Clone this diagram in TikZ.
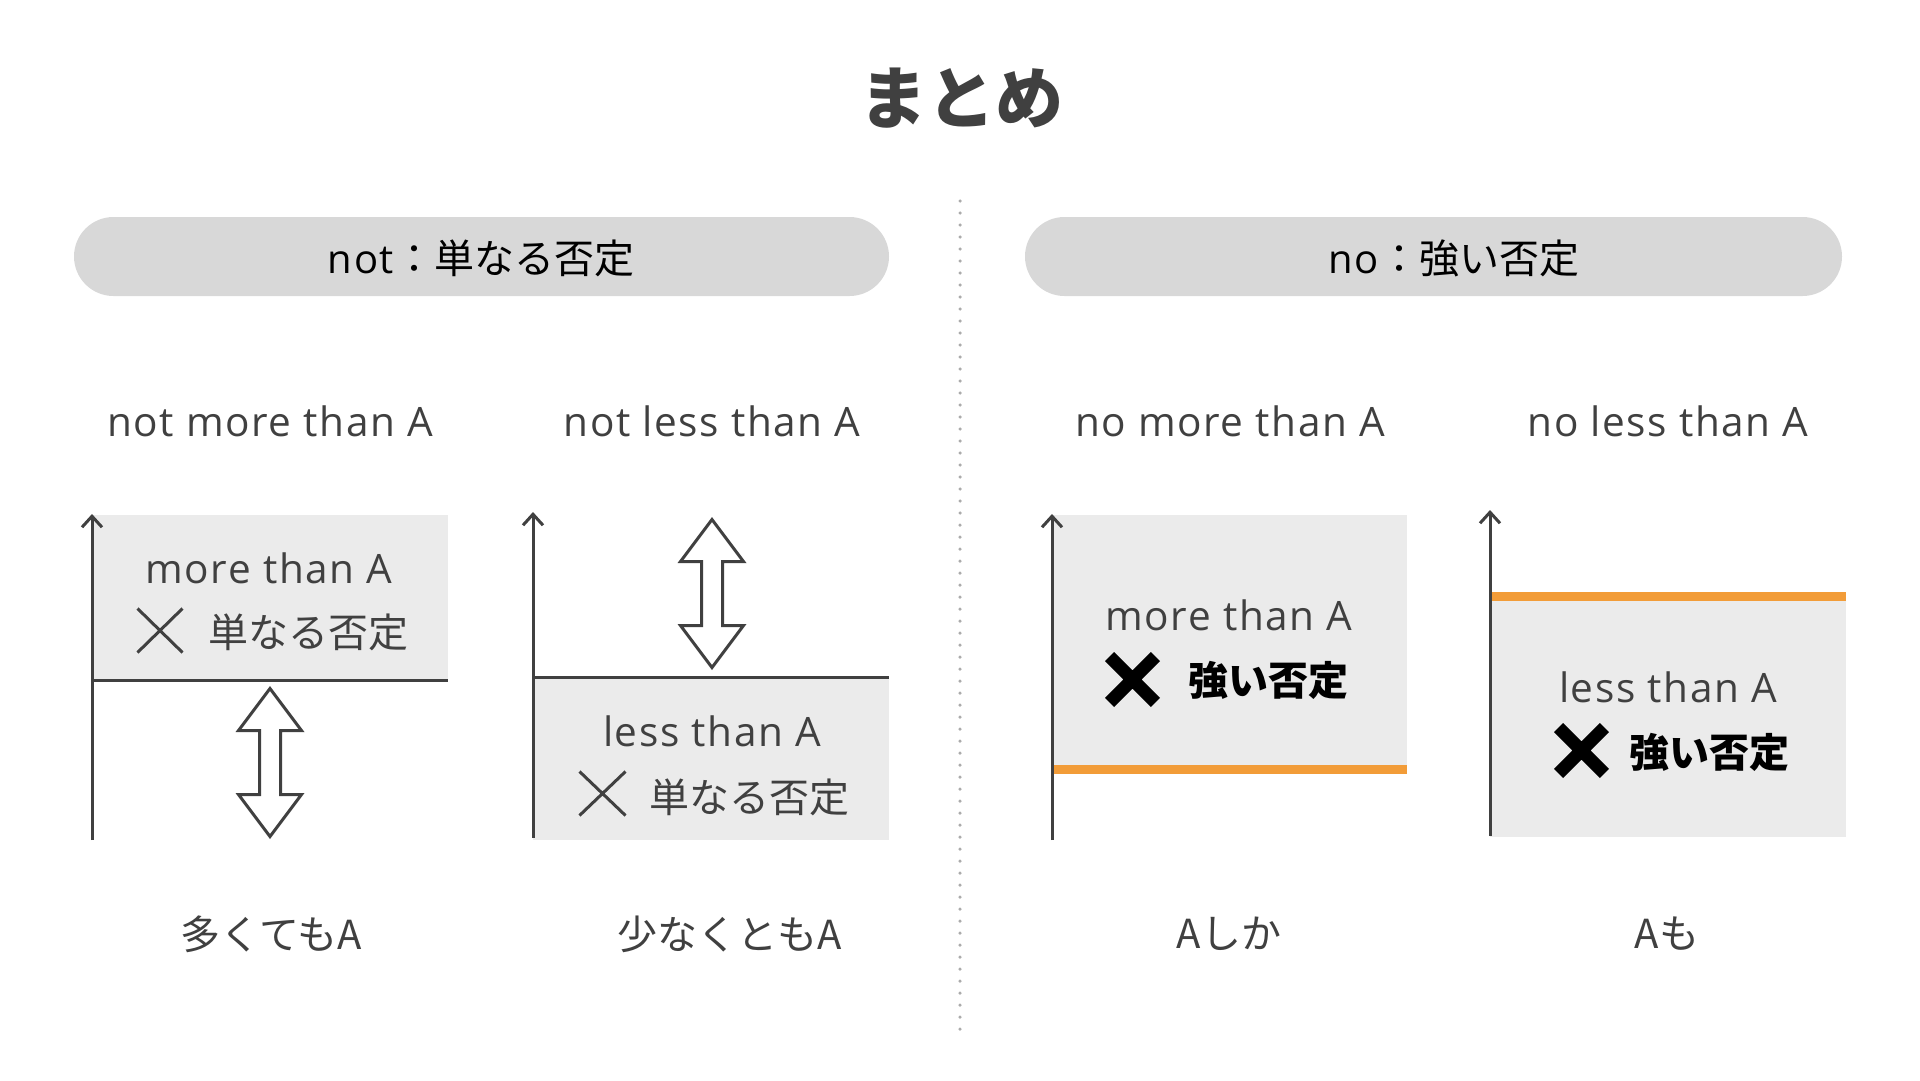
\documentclass[tikz,border=0pt]{standalone}
\usepackage{fontspec}
\usetikzlibrary{arrows.meta}
\newfontfamily\jp{Noto Sans CJK JP}
\newfontfamily\lat[LetterSpace=4]{Open Sans}
\definecolor{txt}{HTML}{404040}
\definecolor{boxgray}{HTML}{EBEBEB}
\definecolor{pillgray}{HTML}{D8D8D8}
\definecolor{orng}{HTML}{F29C38}
\definecolor{dotgray}{HTML}{ABABAB}
\tikzset{
  lab/.style={font=\lat\fontsize{40.5}{48}\selectfont, text=txt, inner sep=0pt},
  jlab/.style={font=\jp\fontsize{40}{48}\selectfont, text=txt, inner sep=0pt},
  boldlab/.style={font=\jp\bfseries\fontsize{40}{48}\selectfont, text=black, inner sep=0pt},
  pilltext/.style={font=\jp\fontsize{40}{48}\selectfont, text=black, inner sep=0pt},
  axis/.style={draw=txt, line width=3pt, -{Straight Barb[length=11pt,width=20pt]}},
  baseline line/.style={draw=txt, line width=3pt},
  orange line/.style={draw=orng, line width=9pt},
  area/.style={fill=boxgray},
  pill/.style={fill=pillgray, rounded corners=39.5pt},
  harrow/.style={draw=txt, fill=white, line width=3pt, line join=miter},
  thinx/.style={draw=txt, line width=3pt},
  boldx/.style={draw=black, line width=13pt},
}
\newcommand\hollowarrow[3]{%
  \draw[harrow] (#1,#2) -- ({#1+31.5},{#2+42}) -- ({#1+10.5},{#2+42}) -- ({#1+10.5},{#3-42})
    -- ({#1+31.5},{#3-42}) -- (#1,#3) -- ({#1-31.5},{#3-42}) -- ({#1-10.5},{#3-42})
    -- ({#1-10.5},{#2+42}) -- ({#1-31.5},{#2+42}) -- cycle;}
\begin{document}
\begin{tikzpicture}[x=1pt,y=-1pt]
\useasboundingbox (0,0) rectangle (1920,1080);
\fill[white] (0,0) rectangle (1920,1080);

% title
\node[font=\jp\bfseries\fontsize{68}{80}\selectfont, text=txt, inner sep=0pt] (title) at (961,98) {まとめ};

% divider
\draw[dotgray, line width=3.5pt, line cap=round, dash pattern=on 0pt off 12pt] (960,201) -- (960,1031);

% pills
\fill[pill] (74,217) rectangle (889,296);
\fill[pill] (1025,217) rectangle (1842,296);
\node[pilltext] (pill1) at (481,258) {{\lat not}：単なる否定};
\node[pilltext] (pill2) at (1454,258) {{\lat no}：強い否定};

% headers
\node[lab] (h1) at (270,421) {not more than A};
\node[lab] (h2) at (712,421) {not less than A};
\node[lab] (h3) at (1230,421) {no more than A};
\node[lab] (h4) at (1668,421) {no less than A};

% bottom labels
\node[jlab] (b1) at (271,934) {多くてもA};
\node[jlab] (b2) at (730,934) {少なくともA};
\node[jlab] (b3) at (1229,934) {Aしか};
\node[jlab] (b4) at (1667,934) {Aも};

% ---- diagram 1
\fill[area] (92,515) rectangle (448,680);
\draw[baseline line] (92,680) -- (448,680);
\draw[axis] (92,840) -- (92,514);
\hollowarrow{270}{688.5}{836.5}
\node[lab] (t1) at (269,568) {more than A};
\draw[thinx] (137.5,608.5) -- (182.5,652.5) (137.5,652.5) -- (182.5,608.5);
\node[jlab] (n1) at (308.5,632) {単なる否定};

% ---- diagram 2
\fill[area] (533,677) rectangle (889,840);
\draw[baseline line] (533,677) -- (889,677);
\draw[axis] (533,838) -- (533,512);
\hollowarrow{712}{519.5}{667.5}
\node[lab] (t2) at (712,731) {less than A};
\draw[thinx] (579.5,771.5) -- (625.5,815.5) (579.5,815.5) -- (625.5,771.5);
\node[jlab] (n2) at (749.5,797) {単なる否定};

% ---- diagram 3
\fill[area] (1052,515) rectangle (1407,770);
\draw[orange line] (1052,769.5) -- (1407,769.5);
\draw[axis] (1052,840) -- (1052,514);
\node[lab] (t3) at (1229,615) {more than A};
\draw[boldx] (1109.6,656.6) -- (1155.4,702.4) (1109.6,702.4) -- (1155.4,656.6);
\node[boldlab] (n3) at (1268.5,680) {強い否定};

% ---- diagram 4
\fill[area] (1490,596) rectangle (1846,837);
\draw[orange line] (1490,596) -- (1846,596);
\draw[axis] (1490,836) -- (1490,510);
\node[lab] (t4) at (1668,687) {less than A};
\draw[boldx] (1558.6,727.6) -- (1604.4,773.4) (1558.6,773.4) -- (1604.4,727.6);
\node[boldlab] (n4) at (1709,752) {強い否定};
\end{tikzpicture}
\end{document}
